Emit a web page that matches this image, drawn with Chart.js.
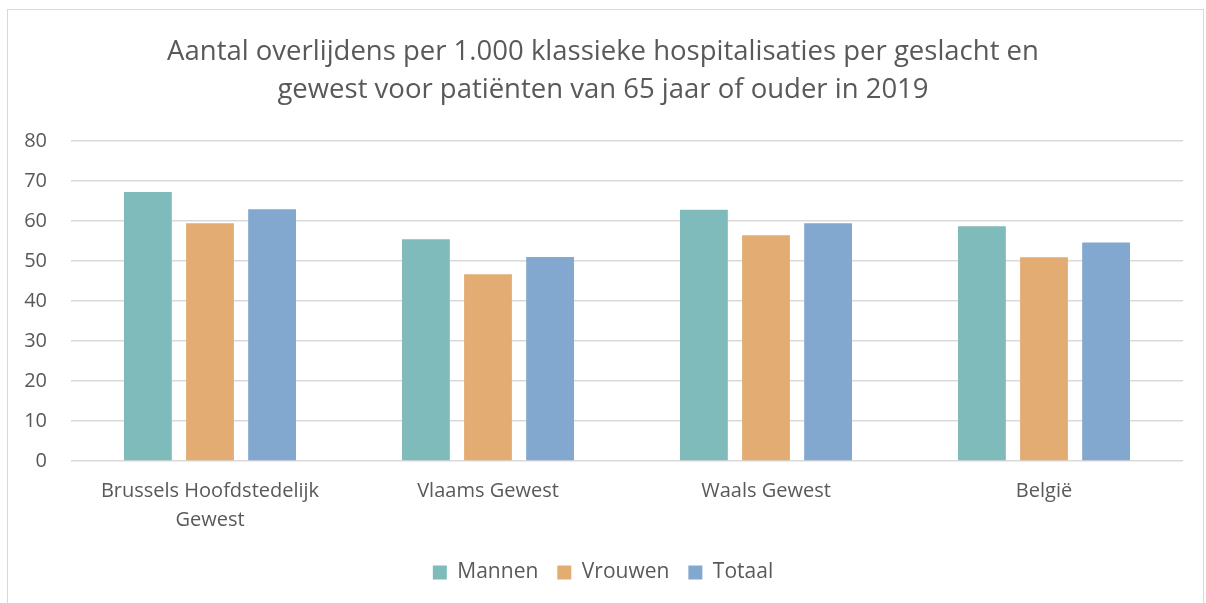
<!DOCTYPE html>
<html>
<head>
<meta charset="utf-8">
<script src="https://cdn.jsdelivr.net/npm/chart.js@4/dist/chart.umd.min.js"></script>
<style>
  html, body { margin: 0; padding: 0; background: #fff; }
  .frame { position: absolute; left: 7px; top: 9px; width: 1197px; height: 600px; border: 1px solid #d9d9d9; box-sizing: border-box; }
  .wrap { position: absolute; left: 0; top: 0; width: 1206px; height: 603px; }
</style>
</head>
<body>
<div class="frame"></div>
<div class="wrap"><canvas id="chart" width="1206" height="603"></canvas></div>
<script>
const regions = [['Brussels Hoofdstedelijk', 'Gewest'], 'Vlaams Gewest', 'Waals Gewest', 'België'];
const mannen = [67.2, 55.4, 62.8, 58.7];
const vrouwen = [59.4, 46.7, 56.4, 50.9];
const totaal = [62.9, 51.0, 59.4, 54.6];
const titleLines = ['Aantal overlijdens per 1.000 klassieke hospitalisaties per geslacht en', 'gewest voor patiënten van 65 jaar of ouder in 2019'];

const grey = '#595959';
const font = 'Open Sans';

const ctx = document.getElementById('chart').getContext('2d');
new Chart(ctx, {
  type: 'bar',
  data: {
    labels: regions,
    datasets: [
      { label: 'Mannen', data: mannen, backgroundColor: '#7fbbba' },
      { label: 'Vrouwen', data: vrouwen, backgroundColor: '#e3ac73' },
      { label: 'Totaal', data: totaal, backgroundColor: '#82a8cf' }
    ]
  },
  options: {
    responsive: false,
    animation: false,
    datasets: { bar: { categoryPercentage: 0.67, barPercentage: 0.77 } },
    layout: { padding: { left: 23, right: 23, top: 12, bottom: 10 } },
    plugins: {
      title: {
        display: true,
        text: titleLines,
        color: grey,
        font: { family: font, size: 27.5, weight: 'normal', lineHeight: 1.38 },
        padding: { top: 21, bottom: 32 }
      },
      legend: {
        position: 'bottom',
        labels: {
          color: grey,
          font: { family: font, size: 21 },
          boxWidth: 14,
          boxHeight: 14,
          padding: 19
        }
      },
      tooltip: { enabled: false }
    },
    scales: {
      x: {
        grid: { display: false },
        border: { display: false },
        ticks: { color: grey, font: { family: font, size: 20, lineHeight: 1.45 }, maxRotation: 0, padding: 8 }
      },
      y: {
        min: 0,
        max: 80,
        afterFit: (scale) => { scale.width = 48; },
        ticks: { stepSize: 10, color: grey, font: { family: font, size: 20 }, padding: 24 },
        grid: { color: '#d9d9d9', lineWidth: 1.5, drawTicks: false },
        border: { display: false }
      }
    }
  }
});
</script>
</body>
</html>
